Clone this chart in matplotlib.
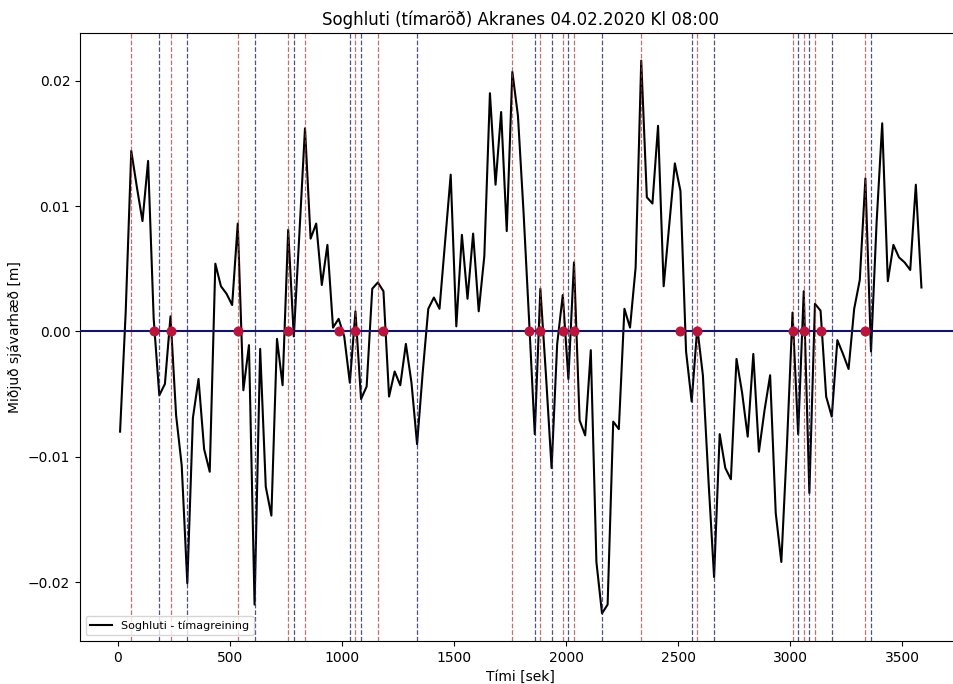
import numpy as np
import matplotlib
matplotlib.use("Agg")
import matplotlib.pyplot as plt

# centred sea level, one sample every 25 s (values in mm)
soghluti_mm = [
    -8.0, 1.5, 14.4, 11.5, 8.8, 13.6, 1.0, -5.1, -4.2, 1.2,
    -6.7, -10.7, -20.1, -6.9, -3.8, -9.4, -11.2, 5.4, 3.6, 3.0,
    2.1, 8.6, -4.7, -1.1, -21.8, -1.4, -12.4, -14.7, -0.6, -4.3,
    8.1, -0.4, 7.8, 16.2, 7.4, 8.6, 3.7, 6.9, 0.3, 1.0,
    -0.4, -4.1, 1.6, -5.4, -4.4, 3.4, 3.9, 3.2, -5.2, -3.2,
    -4.3, -1.0, -4.1, -9.0, -3.3, 1.8, 2.7, 1.8, 7.2, 12.5,
    0.4, 7.7, 2.6, 7.8, 1.6, 6.0, 19.0, 11.7, 17.5, 8.0,
    20.7, 17.2, 9.5, 0.8, -8.2, 3.4, -3.5, -10.9, -1.0, 2.9,
    -3.8, 5.5, -7.1, -8.3, -1.5, -18.4, -22.5, -21.8, -7.2, -7.8,
    1.8, 0.3, 5.1, 21.6, 10.7, 10.2, 16.4, 3.6, 8.5, 13.4,
    11.2, -1.6, -5.6, 0.3, -3.5, -11.9, -19.6, -8.2, -10.9, -11.8,
    -2.2, -4.9, -8.4, -1.8, -9.6, -6.3, -3.5, -14.5, -18.4, -9.1,
    1.5, -8.2, 3.2, -12.9, 2.2, 1.65, -5.2, -6.8, -0.7, -1.8,
    -3.0, 1.8, 4.1, 12.2, -1.6, 8.7, 16.6, 4.0, 6.9, 5.9,
    5.5, 4.9, 11.7, 3.5,
]
t0 = 10
dt = 25

# sample indices of zero down-crossings, crests and troughs
nidurskurdur = [6, 9, 21, 30, 39, 42, 47, 73, 75, 79, 81, 100, 103, 120, 122, 125, 133]
toppar = [2, 9, 21, 30, 33, 42, 46, 70, 75, 79, 81, 93, 103, 120, 122, 124, 133]
dalir = [7, 12, 24, 31, 41, 43, 53, 74, 77, 80, 86, 102, 106, 121, 123, 127, 134]

eta = np.array(soghluti_mm) / 1000.0
tt = t0 + dt * np.arange(len(eta))

fig = plt.figure(figsize=(9.54, 6.84), dpi=100)
ax = fig.add_axes([80 / 954, 43 / 684, 881.5 / 954, 608 / 684])

ax.plot(tt, eta, color="black", lw=1.5, label="Soghluti - tímagreining", zorder=2)
ax.axhline(0, color="#141466", lw=1.5, zorder=3)
for i in toppar:
    ax.axvline(tt[i], color="#a83232", ls="--", lw=0.9, alpha=0.7, zorder=3)
for i in dalir:
    ax.axvline(tt[i], color="#161660", ls="--", lw=0.9, alpha=0.75, zorder=3)
ax.plot(tt[nidurskurdur], np.zeros(len(nidurskurdur)), "o", color="#b8143c",
        ms=6.2, zorder=4)

ax.spines["right"].set_visible(False)
ax.set_title("Soghluti (tímaröð) Akranes 04.02.2020 Kl 08:00")
ax.set_xlabel("Tími [sek]")
ax.set_ylabel("Miðjuð sjávarhæð [m]")
ax.legend(loc="lower left", fontsize=8)

fig.savefig("out.png", dpi=100)
